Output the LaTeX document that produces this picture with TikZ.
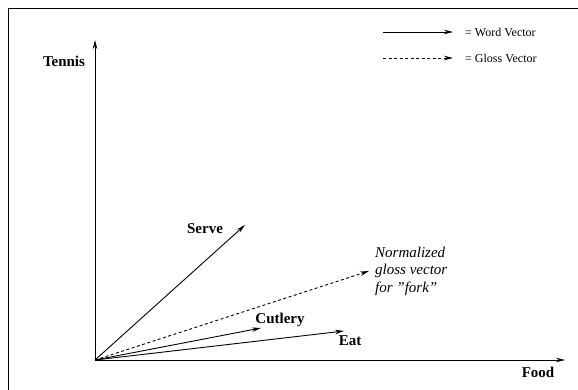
\documentclass[tikz,border=0pt]{standalone}
\usepackage{fontspec}
\setmainfont{Liberation Serif}
\usetikzlibrary{positioning,arrows.meta}

\tikzset{
	vec/.style={line width=0.9pt,-{Stealth[length=9pt,width=4.5pt]}},
	glossvec/.style={vec,dash pattern=on 3pt off 2.5pt},
	axislabel/.style={font=\fontsize{15}{17.5}\selectfont\bfseries,inner sep=0pt},
	keylabel/.style={font=\fontsize{12}{14}\selectfont,inner sep=0pt,anchor=west}
}

\begin{document}
\begin{tikzpicture}[x=1pt,y=-1pt]
		\useasboundingbox (0,0) rectangle (578,389);
		\clip (0,0) rectangle (578,389);
		\draw[line width=0.9pt](8,8) rectangle (600,420);
		% axes
		\coordinate (o) at (95,360);
		\coordinate (ytip) at (95,40);
		\coordinate (xtip) at (565,360);
		\draw[vec](o)--(ytip);
		\draw[vec](o)--(xtip);
		\node[axislabel] (tennis) at (64,61) {Tennis};
		\node[axislabel] (food) at (538,372) {Food};
		% vectors
		\coordinate (serve) at (245,225);
		\coordinate (cutlery) at (261,328);
		\coordinate (eat) at (344,331);
		\coordinate (fork) at (369,271);
		\draw[vec](o)--(serve);
		\draw[vec](o)--(cutlery);
		\draw[vec](o)--(eat);
		\draw[glossvec](o)--(fork);
		\node[axislabel] (servelabel) at (205,229) {Serve};
		\node[axislabel] (cutlerylabel) at (280,320) {Cutlery};
		\node[axislabel] (eatlabel) at (350,341) {Eat};
		\node[axislabel,font=\fontsize{15}{17.5}\selectfont\itshape,align=left,anchor=west] (forklabel) at (375,271) {Normalized\\gloss vector\\for \char34 fork\char34};
		% key
		\coordinate (wa) at (383,32);
		\coordinate (wb) at (453,32);
		\coordinate (ga) at (383,58);
		\coordinate (gb) at (453,58);
		\draw[vec](wa)--(wb);
		\draw[glossvec](ga)--(gb);
		\node[keylabel] (wordkey) at (465,32) {= Word Vector};
		\node[keylabel] (glosskey) at (465,58) {= Gloss Vector};
	\end{tikzpicture}
\end{document}
